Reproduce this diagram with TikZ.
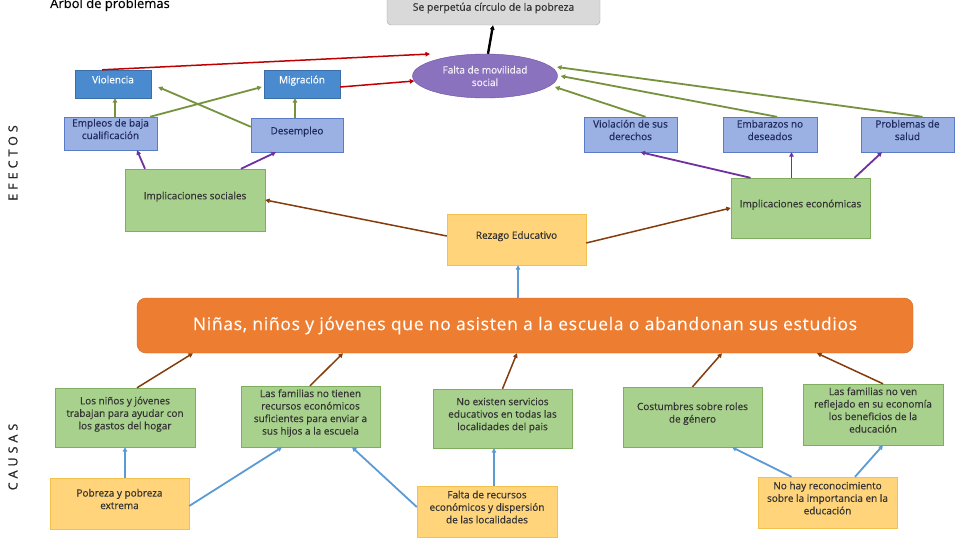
\documentclass[tikz,border=0pt]{standalone}
\usepackage{fontspec}
\setmainfont[FakeBold=0.4]{Open Sans}
\newfontfamily\spacedfont[LetterSpace=32, FakeBold=0.8]{Open Sans}
\newfontfamily\bigfont[LetterSpace=4, FakeBold=0.3]{Open Sans}
\usetikzlibrary{positioning, arrows.meta, shapes.geometric}

\definecolor{grisCaja}{HTML}{D9D9D9}
\definecolor{grisBorde}{HTML}{A6A6A6}
\definecolor{moradoElipse}{HTML}{8B72BE}
\definecolor{moradoBorde}{HTML}{6A4FA0}
\definecolor{azulCaja}{HTML}{4A8BD0}
\definecolor{azulBorde}{HTML}{3C6FA8}
\definecolor{lilaCaja}{HTML}{9BB0E3}
\definecolor{lilaBorde}{HTML}{5A7CC8}
\definecolor{verdeCaja}{HTML}{A9D18E}
\definecolor{verdeBorde}{HTML}{7FAE5F}
\definecolor{amarilloCaja}{HTML}{FFD47A}
\definecolor{amarilloBorde}{HTML}{F2C14E}
\definecolor{naranjaCaja}{HTML}{ED7D31}
\definecolor{naranjaBorde}{HTML}{D0651C}
\definecolor{rojoFlecha}{HTML}{C00000}
\definecolor{verdeFlecha}{HTML}{76923C}
\definecolor{moradoFlecha}{HTML}{7030A0}
\definecolor{cafeFlecha}{HTML}{843C0C}
\definecolor{azulFlecha}{HTML}{5B9BD5}
\definecolor{textoAzul}{HTML}{1F2A5C}

\begin{document}
\begin{tikzpicture}[
		x=1pt, y=-1pt,
		>={Triangle[length=4.5pt, width=4.5pt]}, % Arrow style
		every node/.style={font=\fontsize{10}{12.5}\selectfont, align=center, inner sep=2pt},
		lifted/.style={execute at end node={\rule[-9pt]{0pt}{9pt}}}, % text a bit above the middle
		grayBox/.style={draw=grisBorde, fill=grisCaja, rounded corners=4pt, text=black!80},
		blueBox/.style={draw=azulBorde, fill=azulCaja, text=white, lifted},
		lilacBox/.style={draw=lilaBorde, fill=lilaCaja, text=textoAzul, lifted},
		greenBox/.style={draw=verdeBorde, fill=verdeCaja, text=black!80, lifted},
		yellowBox/.style={draw=amarilloBorde, fill=amarilloCaja, text=black!80, lifted},
		redArrow/.style={->, draw=rojoFlecha, fill=rojoFlecha, line width=1.5pt},
		greenArrow/.style={->, draw=verdeFlecha, fill=verdeFlecha, line width=1.8pt},
		purpleArrow/.style={->, draw=moradoFlecha, fill=moradoFlecha, line width=1.8pt},
		brownArrow/.style={->, draw=cafeFlecha, fill=cafeFlecha, line width=1.5pt},
		blueArrow/.style={->, draw=azulFlecha, fill=azulFlecha, line width=1.8pt}
	]

	\path[use as bounding box, fill=white] (0,0) rectangle (960,540);

	% Title and side labels
	\node[anchor=base west, font=\fontsize{13}{14}\selectfont, inner sep=0pt] (titulo) at (50,8) {Arbol de problemas};
	\node[rotate=90, font=\fontsize{12.5}{14}\spacedfont, text=black!85] (efectos) at (13,163) {EFECTOS};
	\node[rotate=90, font=\fontsize{12.5}{14}\spacedfont, text=black!85] (causas) at (13,457) {CAUSAS};

	% Top of the tree
	\node[grayBox, minimum width=213pt, minimum height=34pt, font=\fontsize{10.4}{12}\selectfont] (circulo) at (493.5,8) {Se perpetúa círculo de la pobreza};
	\node[ellipse, draw=moradoBorde, fill=moradoElipse, text=white!90!moradoElipse, minimum width=145pt, minimum height=44pt] (movilidad) at (485,76) {Falta de movilidad\\social};

	% Effects
	\node[blueBox, minimum width=76pt, minimum height=28pt] (violencia) at (113,84) {Violencia};
	\node[blueBox, minimum width=76pt, minimum height=28pt] (migracion) at (302,84) {Migración};
	\node[lilacBox, minimum width=93pt, minimum height=33pt] (empleos) at (110.5,133.5) {Empleos de baja\\cualificación};
	\node[lilacBox, minimum width=92pt, minimum height=34pt] (desempleo) at (297,135) {Desempleo};
	\node[lilacBox, minimum width=93pt, minimum height=35pt] (derechos) at (630.5,134.5) {Violación de sus\\derechos};
	\node[lilacBox, minimum width=94pt, minimum height=35pt] (embarazos) at (770,134.5) {Embarazos no\\deseados};
	\node[lilacBox, minimum width=93pt, minimum height=35pt] (salud) at (907.5,134.5) {Problemas de\\salud};
	\node[greenBox, minimum width=140pt, minimum height=62pt] (impSociales) at (195,200) {Implicaciones sociales};
	\node[greenBox, minimum width=139pt, minimum height=60pt] (impEconomicas) at (800.5,208) {Implicaciones económicas};
	\node[yellowBox, minimum width=139pt, minimum height=51pt] (rezago) at (516.5,239.5) {Rezago Educativo};

	% Central problem
	\node[draw=naranjaBorde, fill=naranjaCaja, rounded corners=9pt, text=white, minimum width=776pt, minimum height=55pt, font=\fontsize{17.5}{20}\bigfont] (problema) at (525,325.5) {Niñas, niños y jóvenes que no asisten a la escuela o abandonan sus estudios};

	% Causes
	\node[greenBox, minimum width=140pt, minimum height=59pt] (causaTrabajo) at (125,417.5) {Los niños y jóvenes\\trabajan para ayudar con\\los gastos del hogar};
	\node[greenBox, minimum width=139pt, minimum height=61pt] (causaRecursos) at (310.5,416.5) {Las familias no tienen\\recursos económicos\\suficientes para enviar a\\sus hijos a la escuela};
	\node[greenBox, minimum width=139pt, minimum height=59pt] (causaServicios) at (502.5,418.5) {No existen servicios\\educativos en todas las\\localidades del pais};
	\node[greenBox, minimum width=139pt, minimum height=60pt] (causaGenero) at (692.5,417) {Costumbres sobre roles\\de género};
	\node[greenBox, minimum width=140pt, minimum height=61pt] (causaBeneficios) at (873,414.5) {Las familias no ven\\reflejado en su economía\\los beneficios de la\\educación};

	% Root causes
	\node[yellowBox, minimum width=139pt, minimum height=51pt] (pobreza) at (119.5,503.5) {Pobreza y pobreza\\extrema};
	\node[yellowBox, minimum width=140pt, minimum height=51pt] (faltaRecursos) at (487,511.5) {Falta de recursos\\económicos y dispersión\\de las localidades};
	\node[yellowBox, minimum width=139pt, minimum height=51pt] (reconocimiento) at (827.5,502.5) {No hay reconocimiento\\sobre la importancia en la\\educación};

	% Arrows into the top box and the ellipse
	\draw[->, line width=2.4pt] ([xshift=3pt]movilidad.north) -- ([xshift=-0.5pt]circulo.south);
	\draw[redArrow] ([xshift=-11pt]violencia.north) -- ([xshift=-55pt, yshift=22pt]movilidad.center);
	\draw[redArrow] ([yshift=-3pt]migracion.east) -- ([xshift=2pt, yshift=-5pt]movilidad.west);
	\draw[greenArrow] ([xshift=15pt]salud.north) -- ([xshift=72pt, yshift=9pt]movilidad.center);
	\draw[greenArrow] ([xshift=7pt]embarazos.north) -- ([xshift=3pt]movilidad.east);
	\draw[greenArrow] ([xshift=15pt]derechos.north) -- ([xshift=70pt, yshift=-11pt]movilidad.center);

	% Effects among themselves
	\draw[greenArrow] ([xshift=4.5pt]empleos.north) -- ([xshift=2pt]violencia.south);
	\draw[greenArrow] ([xshift=-2pt]desempleo.north) -- ([xshift=-7pt]migracion.south);
	\draw[greenArrow] ([xshift=-7pt]empleos.north east) -- ([xshift=-2pt, yshift=-3pt]migracion.west);
	\draw[greenArrow] ([yshift=-9pt]desempleo.north west) -- ([xshift=7pt, yshift=-3pt]violencia.east);

	% Implications to effects
	\draw[purpleArrow] ([xshift=-50pt]impSociales.north) -- ([xshift=26.5pt]empleos.south);
	\draw[purpleArrow] ([xshift=46pt]impSociales.north) -- ([xshift=-21pt]desempleo.south);
	\draw[purpleArrow] ([xshift=-50pt]impEconomicas.north) -- ([xshift=10pt]derechos.south);
	\draw[purpleArrow] ([xshift=-9pt]impEconomicas.north) -- ([xshift=21.5pt]embarazos.south);
	\draw[purpleArrow] ([xshift=54pt]impEconomicas.north) -- ([xshift=-25.5pt]salud.south);

	% Rezago to implications
	\draw[brownArrow] ([yshift=3.5pt]rezago.west) -- (impSociales.east);
	\draw[brownArrow] ([yshift=-3.5pt]rezago.east) -- (impEconomicas.west);
	\draw[blueArrow] ([xshift=-7pt]problema.north) -- ([xshift=1.5pt]rezago.south);

	% Causes to the central problem
	\draw[brownArrow] ([xshift=12pt]causaTrabajo.north) -- ([xshift=-332pt]problema.south);
	\draw[brownArrow] ([xshift=-0.5pt]causaRecursos.north) -- ([xshift=-182pt]problema.south);
	\draw[brownArrow] (causaServicios.north) -- ([xshift=-8pt]problema.south);
	\draw[brownArrow] (causaGenero.north) -- ([xshift=197pt]problema.south);
	\draw[brownArrow] ([xshift=10pt]causaBeneficios.north) -- ([xshift=292pt]problema.south);

	% Root causes to causes
	\draw[blueArrow] ([xshift=5.5pt]pobreza.north) -- (causaTrabajo.south);
	\draw[blueArrow] ([yshift=-2.5pt]pobreza.east) -- ([xshift=-28.5pt]causaRecursos.south);
	\draw[blueArrow] ([yshift=4.5pt]faltaRecursos.west) -- ([xshift=41.5pt]causaRecursos.south);
	\draw[blueArrow] ([xshift=7pt]faltaRecursos.north) -- ([xshift=-8.5pt]causaServicios.south);
	\draw[blueArrow] ([xshift=-36pt]reconocimiento.north) -- ([xshift=39.5pt]causaGenero.south);
	\draw[blueArrow] ([xshift=27.5pt]reconocimiento.north) -- ([xshift=10pt]causaBeneficios.south);

\end{tikzpicture}
\end{document}
